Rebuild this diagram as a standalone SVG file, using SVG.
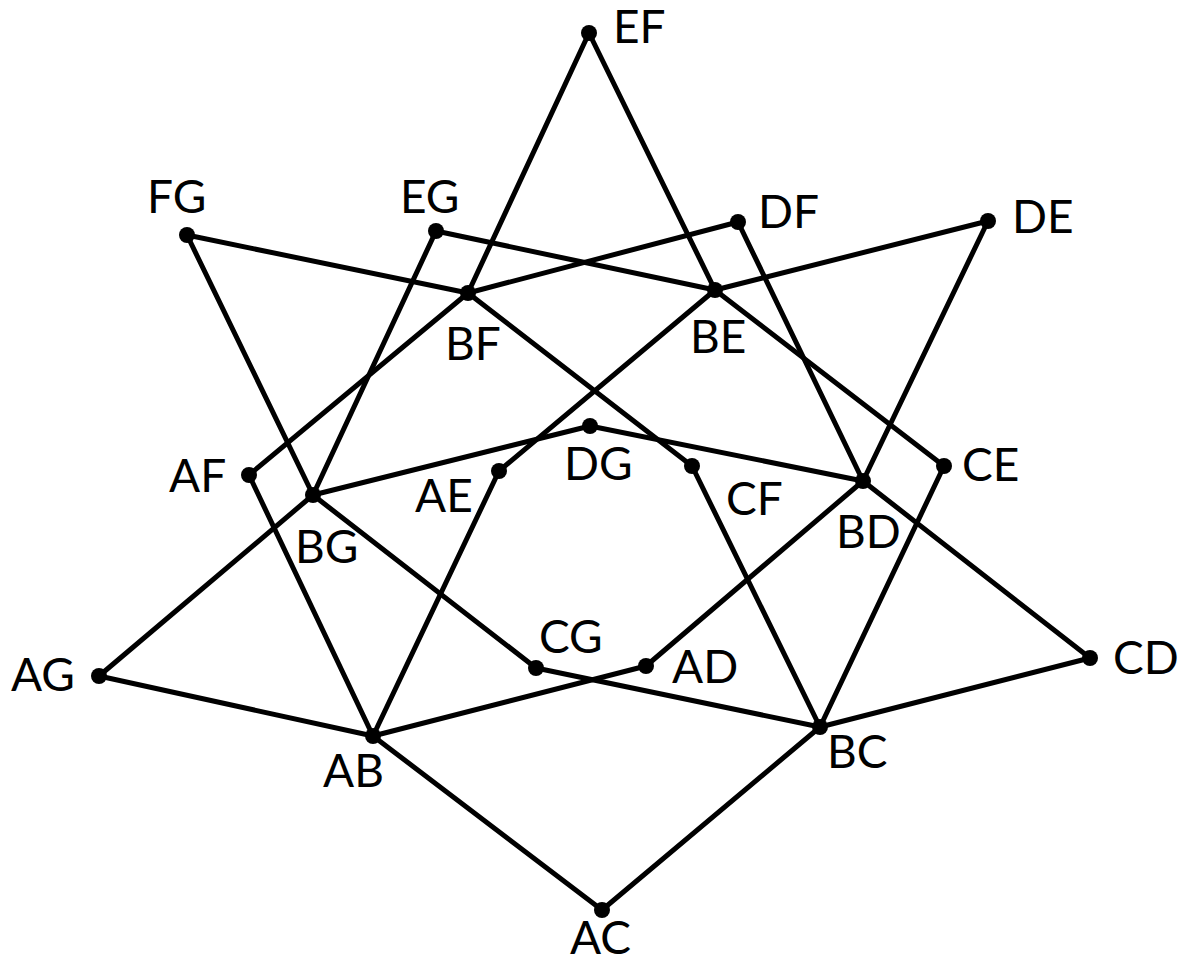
<svg xmlns="http://www.w3.org/2000/svg" width="1194" height="963" viewBox="0 0 1194 963">
<style>
.e line{stroke:#000;stroke-width:5;stroke-linecap:round}
.n circle{fill:#000}
.n text{font-family:Lato,"Noto Sans","Liberation Sans",sans-serif;font-size:46px;fill:#000}
</style>
<rect width="1194" height="963" fill="#fff"/>
<g class="e" id="edges">
<line x1="589" y1="33" x2="468" y2="293"/>
<line x1="589" y1="33" x2="715" y2="290"/>
<line x1="187" y1="235" x2="468" y2="293"/>
<line x1="187" y1="235" x2="313" y2="495"/>
<line x1="436" y1="231" x2="715" y2="290"/>
<line x1="436" y1="231" x2="313" y2="495"/>
<line x1="738" y1="222" x2="468" y2="293"/>
<line x1="738" y1="222" x2="863" y2="481"/>
<line x1="988" y1="221" x2="715" y2="290"/>
<line x1="988" y1="221" x2="863" y2="481"/>
<line x1="468" y1="293" x2="249" y2="475"/>
<line x1="468" y1="293" x2="692" y2="466"/>
<line x1="715" y1="290" x2="499" y2="471"/>
<line x1="715" y1="290" x2="944" y2="466"/>
<line x1="249" y1="475" x2="373" y2="736"/>
<line x1="313" y1="495" x2="590" y2="426"/>
<line x1="313" y1="495" x2="99" y2="676"/>
<line x1="313" y1="495" x2="536" y2="668"/>
<line x1="499" y1="471" x2="373" y2="736"/>
<line x1="590" y1="426" x2="863" y2="481"/>
<line x1="692" y1="466" x2="820" y2="727"/>
<line x1="863" y1="481" x2="646" y2="666"/>
<line x1="863" y1="481" x2="1090" y2="658"/>
<line x1="944" y1="466" x2="820" y2="727"/>
<line x1="99" y1="676" x2="373" y2="736"/>
<line x1="536" y1="668" x2="820" y2="727"/>
<line x1="646" y1="666" x2="373" y2="736"/>
<line x1="1090" y1="658" x2="820" y2="727"/>
<line x1="373" y1="736" x2="602" y2="910"/>
<line x1="820" y1="727" x2="602" y2="910"/>
</g>
<g class="n" id="EF"><circle cx="589" cy="33" r="8"/><text x="613" y="43">EF</text></g>
<g class="n" id="FG"><circle cx="187" cy="235" r="8"/><text x="147" y="213">FG</text></g>
<g class="n" id="EG"><circle cx="436" cy="231" r="8"/><text x="400" y="213">EG</text></g>
<g class="n" id="DF"><circle cx="738" cy="222" r="8"/><text x="758" y="228">DF</text></g>
<g class="n" id="DE"><circle cx="988" cy="221" r="8"/><text x="1012" y="233">DE</text></g>
<g class="n" id="BF"><circle cx="468" cy="293" r="8"/><text x="445" y="360">BF</text></g>
<g class="n" id="BE"><circle cx="715" cy="290" r="8"/><text x="690" y="353">BE</text></g>
<g class="n" id="AF"><circle cx="249" cy="475" r="8"/><text x="169" y="492">AF</text></g>
<g class="n" id="BG"><circle cx="313" cy="495" r="8"/><text x="295" y="563">BG</text></g>
<g class="n" id="AE"><circle cx="499" cy="471" r="8"/><text x="415" y="512">AE</text></g>
<g class="n" id="DG"><circle cx="590" cy="426" r="8"/><text x="564" y="480">DG</text></g>
<g class="n" id="CF"><circle cx="692" cy="466" r="8"/><text x="726" y="515">CF</text></g>
<g class="n" id="BD"><circle cx="863" cy="481" r="8"/><text x="836" y="548">BD</text></g>
<g class="n" id="CE"><circle cx="944" cy="466" r="8"/><text x="962" y="481">CE</text></g>
<g class="n" id="AG"><circle cx="99" cy="676" r="8"/><text x="11" y="691">AG</text></g>
<g class="n" id="CG"><circle cx="536" cy="668" r="8"/><text x="539" y="653">CG</text></g>
<g class="n" id="AD"><circle cx="646" cy="666" r="8"/><text x="672" y="683">AD</text></g>
<g class="n" id="CD"><circle cx="1090" cy="658" r="8"/><text x="1113" y="674">CD</text></g>
<g class="n" id="AB"><circle cx="373" cy="736" r="8"/><text x="323" y="787">AB</text></g>
<g class="n" id="BC"><circle cx="820" cy="727" r="8"/><text x="827" y="768">BC</text></g>
<g class="n" id="AC"><circle cx="602" cy="910" r="8"/><text x="570" y="954">AC</text></g>
</svg>
